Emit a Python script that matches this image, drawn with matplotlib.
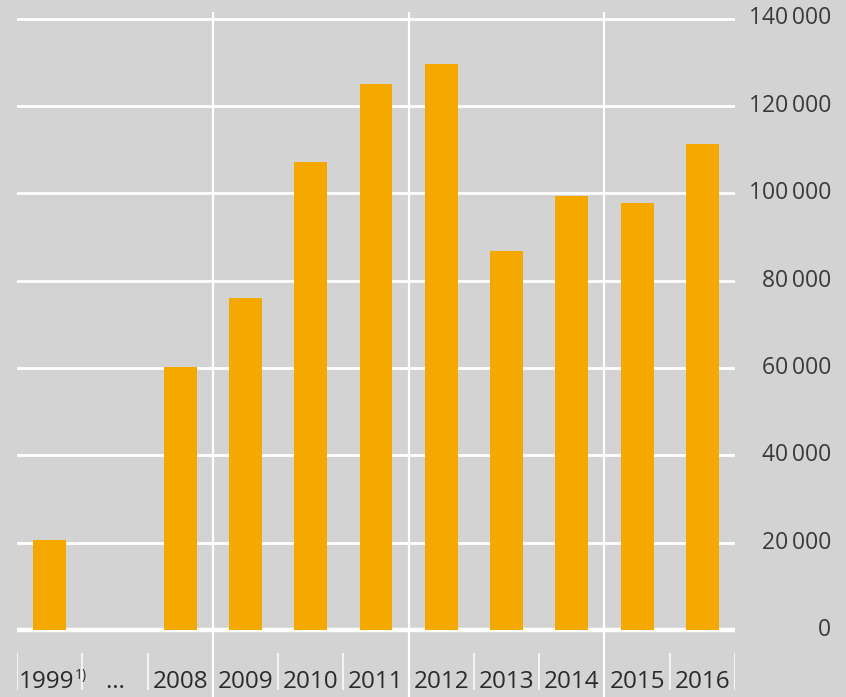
import matplotlib
matplotlib.use("Agg")
import matplotlib.pyplot as plt
import numpy as np

# ---- data ----
categories = ["1999", "…", "2008", "2009", "2010", "2011", "2012", "2013", "2014", "2015", "2016"]
values = [20500, np.nan, 60200, 75900, 107200, 124900, 129500, 86800, 99400, 97800, 111300]
yticks = [0, 20000, 40000, 60000, 80000, 100000, 120000, 140000]
ytick_labels = ["0", "20\u2009000", "40\u2009000", "60\u2009000", "80\u2009000",
                "100\u2009000", "120\u2009000", "140\u2009000"]
footnote_mark = "1)"
group_breaks = [2.5, 5.5, 8.5]

BG = "#d3d3d3"
BAR = "#f5a800"
FONT = ["Open Sans", "DejaVu Sans"]

W, H = 846, 697
fig = plt.figure(figsize=(W / 100, H / 100), dpi=100, facecolor=BG)

# pixel geometry
x_left, x_right = 17, 735
y_zero, y_top_tick = 630.0, 18.5
ax_top_px, ax_bot_px = 12, 697
ppu = (y_zero - y_top_tick) / 140000.0
ymin = -(ax_bot_px - y_zero) / ppu
ymax = 140000 + (y_top_tick - ax_top_px) / ppu

ax = fig.add_axes([x_left / W, 0, (x_right - x_left) / W, (H - ax_top_px) / H])
ax.set_facecolor(BG)
ax.set_xlim(-0.5, len(categories) - 0.5)
ax.set_ylim(ymin, ymax)
for s in ax.spines.values():
    s.set_visible(False)
ax.set_xticks([])
ax.set_yticks([])

x = np.arange(len(categories))

# horizontal gridlines
for t in yticks:
    ax.axhline(t, color="white", lw=3.2 if t == 0 else 2.0, zorder=1)

# big vertical group lines
for b in group_breaks:
    ax.axvline(b, color="white", lw=1.6, zorder=1)

# bars
ax.bar(x, values, width=0.505, color=BAR, zorder=2)

# y labels on right
ytrans = ax.get_yaxis_transform()
xr = (831 - x_left) / (x_right - x_left)
for t, lab in zip(yticks, ytick_labels):
    ax.text(xr, t, lab, transform=ytrans, ha="right", va="center",
            fontsize=16.5, color="#3a3a3a", family=FONT, clip_on=False)

# category separators in label area
sep_top = -(653 - y_zero) / ppu
sep_bot = -(690 - y_zero) / ppu
for i in range(len(categories) + 1):
    ax.plot([i - 0.5, i - 0.5], [sep_top, sep_bot], color="white", lw=1.1, zorder=1,
            solid_capstyle="butt")

# category labels
ylab = -(682.5 - y_zero) / ppu
for i, c in enumerate(categories):
    if i == 0:
        t1 = ax.text(i - 0.5 + 0.02, ylab, c, ha="left", va="center", fontsize=17.5,
                     color="#2b2b2b", family=FONT)
        ax.annotate(footnote_mark, xy=(1, 0.5), xycoords=t1, xytext=(0.8, 0),
                    textcoords="offset points", ha="left", va="bottom",
                    fontsize=10, color="#2b2b2b", family=FONT)
    else:
        ax.text(i, ylab, c, ha="center", va="center", fontsize=17.5,
                color="#2b2b2b", family=FONT)

fig.savefig("out.png", dpi=100, facecolor=BG)
